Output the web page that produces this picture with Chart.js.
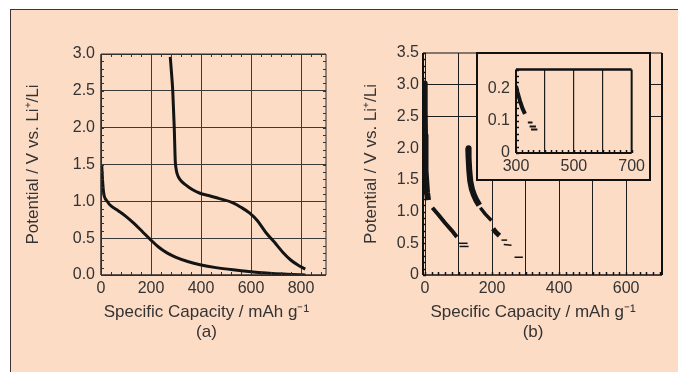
<!DOCTYPE html>
<html><head><meta charset="utf-8">
<script src="https://cdn.jsdelivr.net/npm/chart.js@4.4.1/dist/chart.umd.min.js"></script>
<style>
html,body{margin:0;padding:0;background:#fff;width:678px;height:372px;overflow:hidden;}
#fig{position:absolute;left:10px;top:9px;width:668px;height:363px;background:#fddcc6;border-top:1px solid #3d3535;border-left:1px solid #3d3535;box-sizing:border-box;}
canvas{position:absolute;}
#inset{position:absolute;left:476px;top:52px;width:175px;height:129px;border:2px solid #111;box-sizing:border-box;background:#fddcc6;}
</style></head>
<body>
<div id="fig"></div>
<canvas id="ca" width="340" height="372" style="left:0;top:0;width:340px;height:372px"></canvas>
<canvas id="cb" width="338" height="372" style="left:340px;top:0;width:338px;height:372px"></canvas>
<div id="inset"><canvas id="ci" width="171" height="125" style="left:0;top:0;width:171px;height:125px"></canvas></div>
<script>
// ---------- data: panel (a) ----------
const capA_discharge = [3, 6, 10, 14, 25, 36, 70, 102, 132, 165, 198, 230, 264, 300, 350, 396, 460, 528, 600, 661, 730, 806, 818];
const potA_discharge = [1.48, 1.30, 1.13, 1.06, 1.00, 0.95, 0.87, 0.79, 0.70, 0.59, 0.48, 0.38, 0.30, 0.24, 0.18, 0.14, 0.10, 0.07, 0.045, 0.028, 0.013, 0.003, 0.0];
const capA_charge = [277, 283, 287, 293, 297, 300, 305, 317, 340, 365, 396, 430, 470, 528, 560, 595, 625, 661, 695, 727, 760, 790, 817];
const potA_charge = [2.96, 2.70, 2.50, 2.00, 1.55, 1.45, 1.37, 1.29, 1.22, 1.16, 1.11, 1.08, 1.04, 0.98, 0.92, 0.84, 0.74, 0.57, 0.44, 0.31, 0.20, 0.13, 0.08];
const xTicksA = [0, 200, 400, 600, 800];
const yTicksA = [0, 0.5, 1.0, 1.5, 2.0, 2.5, 3.0];

// ---------- data: panel (b) ----------
const capB1 = [-2, -1, 0, 1, 2, 4, 6, 9];
const potB1 = [3.02, 2.60, 2.20, 1.90, 1.65, 1.45, 1.30, 1.18];
const capB2 = [22, 40, 60, 80, 95];
const potB2 = [1.06, 0.95, 0.82, 0.70, 0.60];
const capB3 = [100, 127];
const potB3 = [0.50, 0.50];
const capB4 = [103, 130];
const potB4 = [0.45, 0.45];
const capB5 = [129, 130, 132, 135, 140, 146, 153, 162];
const potB5 = [2.00, 1.85, 1.65, 1.48, 1.35, 1.26, 1.18, 1.10];
const capB6 = [165, 180, 198];
const potB6 = [1.06, 0.96, 0.86];
const capB7 = [203, 212, 222];
const potB7 = [0.73, 0.67, 0.62];
const capB8 = [228, 245];
const potB8 = [0.55, 0.55];
const capB9 = [235, 258];
const potB9 = [0.48, 0.47];
const capB10 = [267, 292];
const potB10 = [0.28, 0.28];
const xTicksB = [0, 100, 200, 300, 400, 500, 600];
const xLabelsB = ['0', '', '200', '', '400', '', '600'];
const yTicksB = [0, 0.5, 1.0, 1.5, 2.0, 2.5, 3.0, 3.5];
const yLabelsB = ['0', '0.5', '1.0', '1.5', '2.0', '2.5', '3.0', '3.5'];

// ---------- data: inset of (b) ----------
const capI1 = [300, 305, 314, 322, 331];
const potI1 = [0.209, 0.190, 0.162, 0.140, 0.122];
const capI2 = [341, 357];
const potI2 = [0.095, 0.095];
const capI3 = [347, 369];
const potI3 = [0.083, 0.083];
const capI4 = [352, 374];
const potI4 = [0.073, 0.073];
const xTicksI = [300, 400, 500, 600, 700];
const xLabelsI = ['300', '', '500', '', '700'];
const yTicksI = [0, 0.1, 0.2];
const yLabelsI = ['0', '0.1', '0.2'];

const FONT = "'Liberation Sans', Arial, Helvetica, sans-serif";
const TXT = '#333';
const INK = '#141414';
const yTitle = 'Potential / V vs. Li\u207A/Li';
const xTitle = 'Specific Capacity / mAh g\u207B\u00B9';

const pts = (xs, ys) => xs.map((x, i) => ({x, y: ys[i]}));
const seg = (xs, ys, w, smooth) => ({
  data: pts(xs, ys), showLine: true, borderColor: INK, backgroundColor: INK,
  borderWidth: w, pointRadius: 0, borderCapStyle: 'butt', borderJoinStyle: 'round',
  cubicInterpolationMode: smooth ? 'monotone' : 'default', tension: 0
});

const framePlugin = {
  id: 'frame',
  afterDatasetsDraw(chart, args, o) {
    if (!o || !o.widths) return;
    const {ctx, chartArea: {left, top, right, bottom}} = chart;
    ctx.save();
    ctx.strokeStyle = o.color || '#222';
    const w = o.widths;
    const line = (x1, y1, x2, y2, lw) => { if (!lw) return; ctx.lineWidth = lw; ctx.beginPath(); ctx.moveTo(x1, y1); ctx.lineTo(x2, y2); ctx.stroke(); };
    line(left, top, right, top, w.top);
    line(right, top, right, bottom, w.right);
    line(left, bottom, right, bottom, w.bottom);
    line(left, top, left, bottom, w.left);
    ctx.restore();
  }
};
const minorPlugin = {
  id: 'minorTicks',
  afterDatasetsDraw(chart, args, o) {
    if (!o || !o.sides) return;
    const {ctx, chartArea: {left, top, right, bottom}} = chart;
    const xs = chart.scales.x, ys = chart.scales.y;
    ctx.save();
    ctx.strokeStyle = o.color || '#222';
    ctx.lineWidth = o.width || 1;
    const L = o.len || 4;
    if (o.xStep) {
      const n0 = Math.ceil(xs.min / o.xStep - 1e-9), n1 = Math.floor(xs.max / o.xStep + 1e-9);
      for (let n = n0; n <= n1; n++) {
        const px = Math.round(xs.getPixelForValue(n * o.xStep)) + 0.5;
        ctx.beginPath();
        if (o.sides.includes('bottom')) { ctx.moveTo(px, bottom); ctx.lineTo(px, bottom - L); }
        if (o.sides.includes('top')) { ctx.moveTo(px, top); ctx.lineTo(px, top + L); }
        ctx.stroke();
      }
    }
    if (o.yStep) {
      const n0 = Math.ceil(ys.min / o.yStep - 1e-9), n1 = Math.floor(ys.max / o.yStep + 1e-9);
      for (let n = n0; n <= n1; n++) {
        const py = Math.round(ys.getPixelForValue(n * o.yStep)) + 0.5;
        ctx.beginPath();
        if (o.sides.includes('left')) { ctx.moveTo(left, py); ctx.lineTo(left + L, py); }
        if (o.sides.includes('right')) { ctx.moveTo(right, py); ctx.lineTo(right - L, py); }
        ctx.stroke();
      }
    }
    ctx.restore();
  }
};
Chart.register(framePlugin, minorPlugin);

const tickFont = {size: 16, family: FONT};
const titleFont = {size: 17, family: FONT, lineHeight: 1.15};

// ---------- chart (a) ----------
new Chart(document.getElementById('ca'), {
  type: 'scatter',
  data: {datasets: [
    seg(capA_discharge, potA_discharge, 3, true),
    seg(capA_charge, potA_charge, 3, true)
  ]},
  options: {
    responsive: false, animation: false, devicePixelRatio: 1,
    layout: {padding: {top: 54, right: 14, left: 0, bottom: 0}},
    plugins: {
      legend: {display: false}, tooltip: {enabled: false},
      frame: {color: '#2a2a2a', widths: {top: 1, right: 1, bottom: 1.5, left: 1.5}},
      minorTicks: {xStep: 40, yStep: 0.1, len: 3, color: '#333', sides: ['bottom', 'top', 'left', 'right']}
    },
    scales: {
      x: {
        type: 'linear', min: 0, max: 900,
        afterBuildTicks: s => { s.ticks = xTicksA.map(v => ({value: v})); },
        afterFit: s => { s.height = 97; },
        grid: {color: '#3a3a3a', lineWidth: 1, drawTicks: false},
        border: {display: false},
        ticks: {padding: 4, color: TXT, font: tickFont, maxRotation: 0, autoSkip: false},
        title: {display: true, text: [xTitle + '   ', '(a)   '], color: TXT, font: titleFont, padding: {top: 0, bottom: 30}}
      },
      y: {
        type: 'linear', min: 0, max: 3,
        afterBuildTicks: s => { s.ticks = yTicksA.map(v => ({value: v})); },
        afterFit: s => { s.width = 101; },
        grid: {color: '#3a3a3a', lineWidth: 1, drawTicks: false},
        border: {display: false},
        ticks: {padding: 6, color: TXT, font: tickFont, callback: v => v.toFixed(1)},
        title: {display: true, text: yTitle, color: TXT, font: titleFont, padding: {top: 24, bottom: 0}}
      }
    }
  }
});

// ---------- chart (b) ----------
new Chart(document.getElementById('cb'), {
  type: 'scatter',
  data: {datasets: [
    seg(capB1, potB1, 6, false),
    seg(capB2, potB2, 4, false),
    seg(capB3, potB3, 1.5, false),
    seg(capB4, potB4, 1.5, false),
    seg(capB5, potB5, 6, false),
    seg(capB6, potB6, 3.5, false),
    seg(capB7, potB7, 5, false),
    seg(capB8, potB8, 1.5, false),
    seg(capB9, potB9, 1.5, false),
    seg(capB10, potB10, 1.5, false)
  ]},
  options: {
    responsive: false, animation: false, devicePixelRatio: 1,
    layout: {padding: {top: 53, right: 16, left: 0, bottom: 0}},
    plugins: {
      legend: {display: false}, tooltip: {enabled: false},
      frame: {color: '#111', widths: {top: 1, right: 2, bottom: 1.5, left: 2}},
      minorTicks: {xStep: 20, yStep: 0.1, len: 3, width: 1.5, color: '#111', sides: ['bottom', 'left']}
    },
    scales: {
      x: {
        type: 'linear', min: -6, max: 707,
        afterBuildTicks: s => { s.ticks = xTicksB.map(v => ({value: v})); },
        afterFit: s => { s.height = 97; },
        grid: {color: '#1e1e1e', lineWidth: 1, drawTicks: false},
        border: {display: false},
        ticks: {padding: 4, color: TXT, font: tickFont, maxRotation: 0, autoSkip: false,
                callback: (v, i) => xLabelsB[i]},
        title: {display: true, text: [xTitle + '    ', '(b)    '], color: TXT, font: titleFont, padding: {top: 0, bottom: 30}}
      },
      y: {
        type: 'linear', min: 0, max: 3.5,
        afterBuildTicks: s => { s.ticks = yTicksB.map(v => ({value: v})); },
        afterFit: s => { s.width = 83; },
        grid: {color: ctx => (ctx.tick && (ctx.tick.value === 2.5 || ctx.tick.value === 3.0)) ? '#1e1e1e' : 'rgba(0,0,0,0)', lineWidth: 1, drawTicks: false},
        border: {display: false},
        ticks: {padding: 4, color: TXT, font: tickFont, callback: (v, i) => yLabelsB[i]},
        title: {display: true, text: yTitle, color: TXT, font: titleFont, padding: {top: 22, bottom: 0}}
      }
    }
  }
});

// ---------- inset ----------
new Chart(document.getElementById('ci'), {
  type: 'scatter',
  data: {datasets: [
    seg(capI1, potI1, 4, false),
    seg(capI2, potI2, 2, false),
    seg(capI3, potI3, 2, false),
    seg(capI4, potI4, 2, false)
  ]},
  options: {
    responsive: false, animation: false, devicePixelRatio: 1,
    layout: {padding: {top: 12, right: 11, left: 0, bottom: 0}},
    plugins: {
      legend: {display: false}, tooltip: {enabled: false},
      frame: {color: '#111', widths: {top: 2.5, right: 2, bottom: 2, left: 2}},
      minorTicks: {xStep: 20, yStep: 0.02, len: 3, width: 1.5, color: '#111', sides: ['bottom', 'left']}
    },
    scales: {
      x: {
        type: 'linear', min: 300, max: 700,
        afterBuildTicks: s => { s.ticks = xTicksI.map(v => ({value: v})); },
        afterFit: s => { s.height = 26; },
        grid: {color: ctx => (ctx.tick && ctx.tick.value > 300 && ctx.tick.value < 700) ? '#1e1e1e' : 'rgba(0,0,0,0)', lineWidth: 1.2, drawTicks: false},
        border: {display: false},
        ticks: {padding: 4, color: TXT, font: tickFont, maxRotation: 0, autoSkip: false,
                callback: (v, i) => xLabelsI[i]}
      },
      y: {
        type: 'linear', min: 0, max: 0.26,
        afterBuildTicks: s => { s.ticks = yTicksI.map(v => ({value: v})); },
        afterFit: s => { s.width = 38; },
        grid: {display: false, drawTicks: false},
        border: {display: false},
        ticks: {padding: 6, color: TXT, font: tickFont, callback: (v, i) => yLabelsI[i]}
      }
    }
  }
});
</script>
</body></html>
